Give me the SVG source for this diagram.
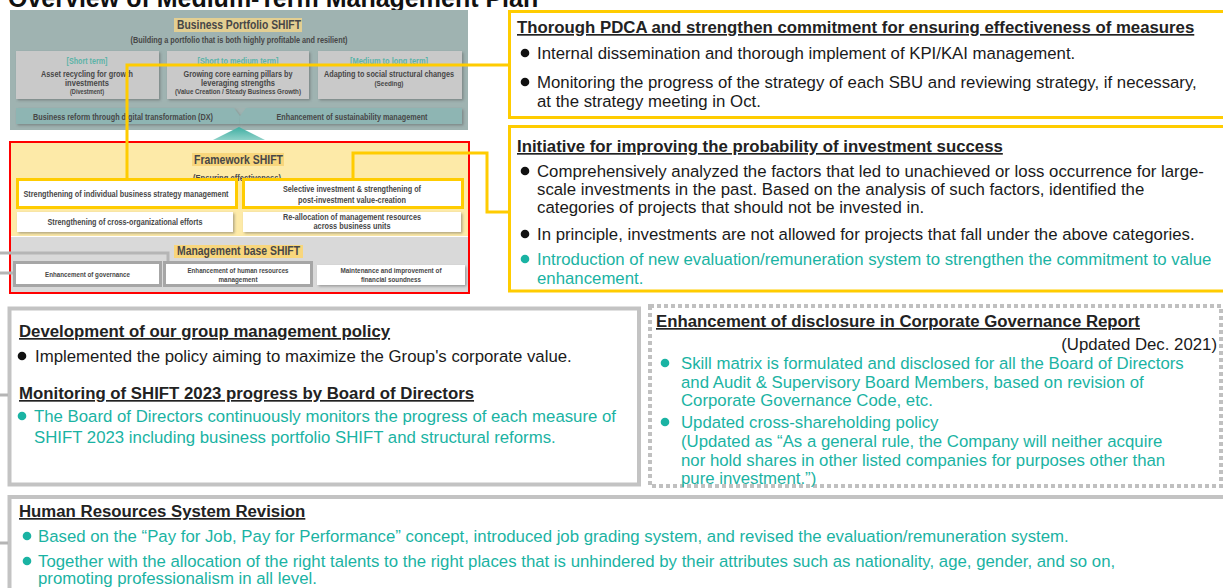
<svg xmlns="http://www.w3.org/2000/svg" width="1223" height="588" viewBox="0 0 1223 588">
<defs>
<style>
text{font-family:"Liberation Sans",Arial,sans-serif}
.title{font-size:25px;font-weight:bold;fill:#111}
.d{font-weight:bold;fill:#474747;text-anchor:middle}
.dt{font-weight:bold;fill:#5cb3a7;text-anchor:middle}
.h{font-size:16.8px;font-weight:bold;fill:#222;text-decoration:underline}
.p{font-size:16.8px;fill:#1a1a1a}
.g{font-size:16.8px;fill:#1ab3a3}
.yl{fill:none;stroke:#ffcc00;stroke-width:3}
.gl{fill:none;stroke:#b5b5b5;stroke-width:3}
.wb{fill:#fff;filter:url(#sh)}
.sub{fill:#c9c9c9;filter:url(#sh)}
.bar{fill:#8eb5b3;filter:url(#sh)}
.hl{fill:#f8d67c}
.bk{fill:#111}
.gb{fill:#1ab3a3}
</style>
<filter id="sh" x="-5%" y="-10%" width="115%" height="140%">
<feDropShadow dx="1.5" dy="1.5" stdDeviation="0.8" flood-color="#555" flood-opacity="0.45"/>
</filter>
<linearGradient id="arw" x1="0" y1="0" x2="0" y2="1">
<stop offset="0" stop-color="#3eaea2"/><stop offset="1" stop-color="#8fd1c8"/>
</linearGradient>
</defs>

<rect width="1223" height="588" fill="#fff"/>

<text class="title" x="8" y="7">Overview of Medium-Term Management Plan</text>

<!-- Business Portfolio SHIFT -->
<g id="portfolio">
<rect x="10" y="10" width="458" height="120" fill="#9fb3b1"/>
<rect x="174" y="18" width="128" height="14" fill="#e3cf92"/>
<text class="d" x="239" y="29" font-size="12.5" textLength="124" lengthAdjust="spacingAndGlyphs">Business Portfolio SHIFT</text>
<text class="d" x="239" y="43" font-size="8.5" textLength="217" lengthAdjust="spacingAndGlyphs">(Building a portfolio that is both highly profitable and resilient)</text>
<g id="short-term">
<rect class="sub" x="16" y="51" width="143" height="48"/>
<text class="dt" x="87" y="64" font-size="8.5" textLength="41" lengthAdjust="spacingAndGlyphs">[Short term]</text>
<text class="d" x="87" y="77" font-size="9" textLength="92" lengthAdjust="spacingAndGlyphs">Asset recycling for growth</text>
<text class="d" x="87" y="86" font-size="9" textLength="44" lengthAdjust="spacingAndGlyphs">investments</text>
<text class="d" x="87" y="94" font-size="6.5" textLength="34" lengthAdjust="spacingAndGlyphs" font-weight="normal">(Divestment)</text>
</g>
<g id="short-medium-term">
<rect class="sub" x="167" y="51" width="142" height="48"/>
<text class="dt" x="238" y="64" font-size="8.5" textLength="81" lengthAdjust="spacingAndGlyphs">[Short to medium term]</text>
<text class="d" x="238" y="77" font-size="9" textLength="109" lengthAdjust="spacingAndGlyphs">Growing core earning pillars by</text>
<text class="d" x="238" y="86" font-size="9" textLength="74" lengthAdjust="spacingAndGlyphs">leveraging strengths</text>
<text class="d" x="238" y="94" font-size="6.5" textLength="126" lengthAdjust="spacingAndGlyphs">(Value Creation / Steady Business Growth)</text>
</g>
<g id="medium-long-term">
<rect class="sub" x="318" y="51" width="144" height="48"/>
<text class="dt" x="389" y="64" font-size="8.5" textLength="78" lengthAdjust="spacingAndGlyphs">[Medium to long term]</text>
<text class="d" x="389" y="77" font-size="9" textLength="130" lengthAdjust="spacingAndGlyphs">Adapting to social structural changes</text>
<text class="d" x="389" y="86" font-size="6.5" textLength="29" lengthAdjust="spacingAndGlyphs" font-weight="normal">(Seeding)</text>
</g>
<g id="bars">
<polygon class="bar" points="16,108 234,108 240,116 240,124 16,124"/>
<polygon class="bar" points="246,108 462,108 462,124 240,124 240,116"/>
<text class="d" x="123" y="119.5" font-size="9" textLength="180" lengthAdjust="spacingAndGlyphs">Business reform through digital transformation (DX)</text>
<text class="d" x="352" y="119.5" font-size="9" textLength="151" lengthAdjust="spacingAndGlyphs">Enhancement of sustainability management</text>
</g>
</g>

<!-- upward arrow between the two blocks -->
<g id="up-arrow">
<polygon points="213,140 265,140 239,127" fill="url(#arw)"/>
<rect x="225" y="141" width="28" height="1.5" fill="#9fd6cf"/>
<rect x="225" y="144" width="28" height="1.5" fill="#b5e0da"/>
<rect x="225" y="147" width="28" height="1.5" fill="#cbe9e4"/>
</g>

<!-- Framework SHIFT / Management base SHIFT -->
<g id="framework">
<rect x="10" y="142" width="459" height="94" fill="#fdeaa8"/>
<rect x="10" y="237" width="459" height="56" fill="#d9d9d9"/>
<rect x="192" y="153" width="92" height="13" class="hl"/>
<text class="d" x="238.5" y="164" font-size="12.5" textLength="89" lengthAdjust="spacingAndGlyphs" fill="#333">Framework SHIFT</text>
<text class="d" x="237" y="181" font-size="8.5" textLength="88" lengthAdjust="spacingAndGlyphs">(Ensuring effectiveness)</text>
<g id="strategy-mgmt">
<rect x="17.5" y="179.5" width="219" height="28" fill="#fff"/>
<rect x="17.5" y="179.5" width="219" height="28" class="yl"/>
<text class="d" x="126" y="197" font-size="9" textLength="205" lengthAdjust="spacingAndGlyphs">Strengthening of individual business strategy management</text>
</g>
<g id="selective-investment">
<rect x="243.5" y="179.5" width="219" height="28" fill="#fff"/>
<rect x="243.5" y="179.5" width="219" height="28" class="yl"/>
<text class="d" x="352" y="192" font-size="9" textLength="138" lengthAdjust="spacingAndGlyphs">Selective investment &amp; strengthening of</text>
<text class="d" x="352" y="203" font-size="9" textLength="108" lengthAdjust="spacingAndGlyphs">post-investment value-creation</text>
</g>
<g id="cross-org">
<rect class="wb" x="17" y="212" width="216" height="20"/>
<text class="d" x="125" y="225" font-size="9" textLength="155" lengthAdjust="spacingAndGlyphs">Strengthening of cross-organizational efforts</text>
</g>
<g id="reallocation">
<rect class="wb" x="243" y="212" width="218" height="20"/>
<text class="d" x="352" y="220" font-size="9" textLength="138" lengthAdjust="spacingAndGlyphs">Re-allocation of management resources</text>
<text class="d" x="352" y="229" font-size="9" textLength="77" lengthAdjust="spacingAndGlyphs">across business units</text>
</g>
<rect x="174" y="245" width="129" height="13" class="hl"/>
<text class="d" x="238.5" y="255" font-size="13" textLength="123" lengthAdjust="spacingAndGlyphs" fill="#2a2a2a">Management base SHIFT</text>
<g id="governance">
<rect x="13" y="261" width="149" height="26" fill="#a6a6a6"/>
<rect x="16" y="264" width="143" height="20" fill="#fff"/>
<text class="d" x="87.5" y="277" font-size="7" textLength="85" lengthAdjust="spacingAndGlyphs" font-weight="normal" fill="#333">Enhancement of governance</text>
</g>
<g id="human-resources">
<rect x="163" y="261" width="150" height="26" fill="#a6a6a6"/>
<rect x="166" y="264" width="144" height="20" fill="#fff"/>
<text class="d" x="238" y="272.5" font-size="7" textLength="101" lengthAdjust="spacingAndGlyphs" font-weight="normal" fill="#333">Enhancement of human resources</text>
<text class="d" x="238" y="281.5" font-size="7" textLength="39" lengthAdjust="spacingAndGlyphs" font-weight="normal" fill="#333">management</text>
</g>
<g id="financial">
<rect class="wb" x="317" y="265" width="148" height="20"/>
<text class="d" x="391" y="272.5" font-size="7" textLength="101" lengthAdjust="spacingAndGlyphs" font-weight="normal" fill="#333">Maintenance and improvement of</text>
<text class="d" x="391" y="281.5" font-size="7" textLength="60" lengthAdjust="spacingAndGlyphs" font-weight="normal" fill="#333">financial soundness</text>
</g>
<rect x="10" y="142" width="459" height="151" fill="none" stroke="#ff0000" stroke-width="2"/>
</g>

<!-- PDCA box -->
<g id="pdca">
<rect x="509.5" y="11.5" width="720" height="106" class="yl" fill="#fff"/>
<text class="h" x="517" y="33">Thorough PDCA and strengthen commitment for ensuring effectiveness of measures</text>
<circle class="bk" cx="525" cy="53" r="4.3"/>
<text class="p" x="537" y="59">Internal dissemination and thorough implement of KPI/KAI management.</text>
<circle class="bk" cx="525" cy="82" r="4.3"/>
<text class="p" x="537" y="88">Monitoring the progress of the strategy of each SBU and reviewing strategy, if necessary,</text>
<text class="p" x="537" y="107">at the strategy meeting in Oct.</text>
</g>

<!-- Investment success box -->
<g id="investment">
<rect x="509.5" y="126.5" width="720" height="164.5" class="yl" fill="#fff"/>
<text class="h" x="517" y="152">Initiative for improving the probability of investment success</text>
<circle class="bk" cx="525" cy="171" r="4.3"/>
<text class="p" x="537" y="177">Comprehensively analyzed the factors that led to unachieved or loss occurrence for large-</text>
<text class="p" x="537" y="195">scale investments in the past. Based on the analysis of such factors, identified the</text>
<text class="p" x="537" y="213">categories of projects that should not be invested in.</text>
<circle class="bk" cx="525" cy="234" r="4.3"/>
<text class="p" x="537" y="240">In principle, investments are not allowed for projects that fall under the above categories.</text>
<circle class="gb" cx="525" cy="259" r="4.3"/>
<text class="g" x="537" y="265">Introduction of new evaluation/remuneration system to strengthen the commitment to value</text>
<text class="g" x="537" y="284">enhancement.</text>
</g>

<!-- Group management policy box -->
<g id="group-policy">
<rect x="9.5" y="308.5" width="629.5" height="176" fill="#fff" stroke="#c3c3c3" stroke-width="4"/>
<text class="h" x="19" y="337">Development of our group management policy</text>
<circle class="bk" cx="22" cy="356" r="4.3"/>
<text class="p" x="35" y="362">Implemented the policy aiming to maximize the Group's corporate value.</text>
<text class="h" x="19" y="399" fill="#111">Monitoring of SHIFT 2023 progress by Board of Directors</text>
<circle class="gb" cx="22" cy="416" r="4.3"/>
<text class="g" x="34" y="422">The Board of Directors continuously monitors the progress of each measure of</text>
<text class="g" x="34" y="443">SHIFT 2023 including business portfolio SHIFT and structural reforms.</text>
</g>

<!-- Corporate governance report box -->
<g id="governance-report">
<rect x="650" y="306" width="571" height="180" fill="#fff" stroke="#c0c0c0" stroke-width="4" stroke-dasharray="4 3"/>
<text class="h" x="656" y="327">Enhancement of disclosure in Corporate Governance Report</text>
<text class="p" x="1217" y="350" text-anchor="end">(Updated Dec. 2021)</text>
<circle class="gb" cx="665" cy="363" r="4.3"/>
<text class="g" x="681" y="369">Skill matrix is formulated and disclosed for all the Board of Directors</text>
<text class="g" x="681" y="388">and Audit &amp; Supervisory Board Members, based on revision of</text>
<text class="g" x="681" y="406">Corporate Governance Code, etc.</text>
<circle class="gb" cx="665" cy="422" r="4.3"/>
<text class="g" x="681" y="428">Updated cross-shareholding policy</text>
<text class="g" x="681" y="447">(Updated as “As a general rule, the Company will neither acquire</text>
<text class="g" x="681" y="466">nor hold shares in other listed companies for purposes other than</text>
<text class="g" x="681" y="484">pure investment.”)</text>
</g>

<!-- Human resources box -->
<g id="hr-revision">
<rect x="9.5" y="497" width="1230" height="120" fill="#fff" stroke="#c3c3c3" stroke-width="4"/>
<text class="h" x="19" y="517">Human Resources System Revision</text>
<circle class="gb" cx="27" cy="536" r="4.3"/>
<text class="g" x="38" y="542">Based on the “Pay for Job, Pay for Performance” concept, introduced job grading system, and revised the evaluation/remuneration system.</text>
<circle class="gb" cx="27" cy="561" r="4.3"/>
<text class="g" x="38" y="567">Together with the allocation of the right talents to the right places that is unhindered by their attributes such as nationality, age, gender, and so on,</text>
<text class="g" x="38" y="584">promoting professionalism in all level.</text>
</g>

<!-- connectors -->
<g id="connectors">
<polyline class="yl" points="127,179 127,65 509,65"/>
<polyline class="yl" points="353,179 353,153 487,153 487,212 509,212"/>
<polyline class="gl" points="0,253 168,253 168,261"/>
<line class="gl" x1="0" y1="273" x2="13" y2="273"/>
<line class="gl" x1="0" y1="395" x2="8" y2="395"/>
<line class="gl" x1="0" y1="543" x2="8" y2="543"/>
</g>
</svg>
